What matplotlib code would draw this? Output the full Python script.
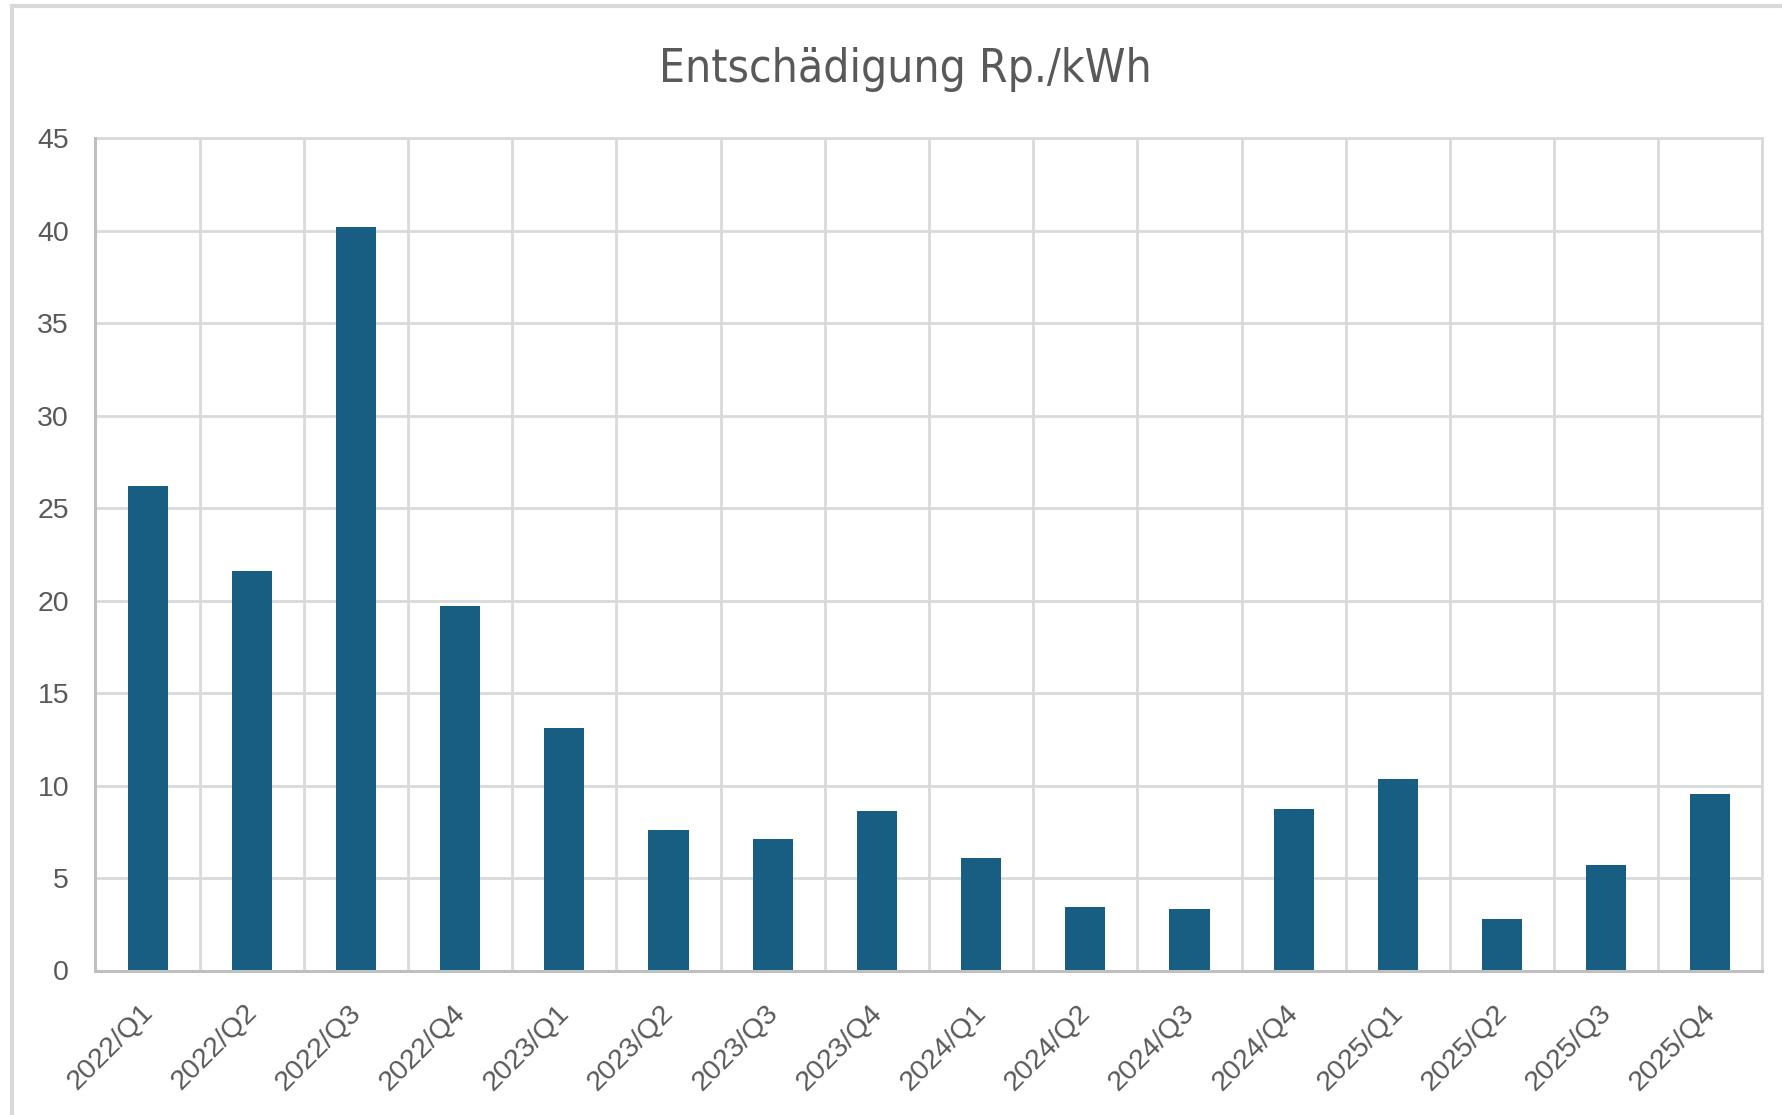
import matplotlib
matplotlib.use("Agg")
import matplotlib.pyplot as plt
import matplotlib.transforms as mtransforms
from matplotlib.patches import Rectangle
import numpy as np

# ---------------------------------------------------------------------------
# Daten
# ---------------------------------------------------------------------------
quartale = ["2022/Q1", "2022/Q2", "2022/Q3", "2022/Q4",
            "2023/Q1", "2023/Q2", "2023/Q3", "2023/Q4",
            "2024/Q1", "2024/Q2", "2024/Q3", "2024/Q4",
            "2025/Q1", "2025/Q2", "2025/Q3", "2025/Q4"]
entschaedigung = [26.2, 21.6, 40.2, 19.7,
                  13.1, 7.6, 7.1, 8.6,
                  6.1, 3.45, 3.3, 8.75,
                  10.35, 2.78, 5.72, 9.52]
y_ticks = [0, 5, 10, 15, 20, 25, 30, 35, 40, 45]
titel = "Entschädigung Rp./kWh"

BAR_COLOR = "#175E82"
GRID_COLOR = "#D9D9D9"
AXIS_COLOR = "#BFBFBF"
TEXT_COLOR = "#595959"

plt.rcParams["font.family"] = ["Liberation Sans", "DejaVu Sans"]

W, H = 1783, 1115
fig = plt.figure(figsize=(W / 100, H / 100), dpi=100)
ax = fig.add_axes([95.5 / W, 1 - 970.5 / H, (1762.5 - 95.5) / W, (970.5 - 138.3) / H])

x = np.arange(len(quartale))
ax.bar(x, entschaedigung, width=0.385, color=BAR_COLOR, zorder=3)

ax.set_xlim(-0.5, len(quartale) - 0.5)
ax.set_ylim(0, 45)
ax.set_yticks(y_ticks)
ax.set_xticks(x)
ax.set_xticklabels(quartale)
ax.set_xticks(np.arange(-0.5, len(quartale)), minor=True)

ax.grid(axis="y", which="major", color=GRID_COLOR, linewidth=2, zorder=0)
ax.grid(axis="x", which="minor", color=GRID_COLOR, linewidth=2, zorder=0)
ax.tick_params(axis="both", which="both", length=0, colors=TEXT_COLOR, labelsize=20.5)
ax.tick_params(axis="y", pad=19)
ax.tick_params(axis="x", pad=21)

for side in ["left", "bottom"]:
    ax.spines[side].set_color(AXIS_COLOR)
    ax.spines[side].set_linewidth(2.2)
    ax.spines[side].set_zorder(4)
for side in ["top", "right"]:
    ax.spines[side].set_color(GRID_COLOR)
    ax.spines[side].set_linewidth(2)

offset = mtransforms.ScaledTranslation(-8 / 100, 0, fig.dpi_scale_trans)
for lbl in ax.get_xticklabels():
    lbl.set_rotation(45)
    lbl.set_rotation_mode("anchor")
    lbl.set_ha("right")
    lbl.set_va("top")
    lbl.set_transform(lbl.get_transform() + offset)

# schmale Schrift fuer den Titel
fig.text(905 / W, 1 - 82 / H, titel, ha="center", va="baseline",
         fontsize=33, color=TEXT_COLOR, fontstretch="condensed",
         family=["Liberation Sans Narrow", "DejaVu Sans"])

# Rahmen des Diagramms (nur oben und links sichtbar)
fig.patches.append(Rectangle((12 / W, -0.1), 1.2, 1.1 - 6 / H,
                             transform=fig.transFigure, fill=False,
                             edgecolor=GRID_COLOR, linewidth=3, zorder=0))

fig.savefig("out.png", dpi=100)
